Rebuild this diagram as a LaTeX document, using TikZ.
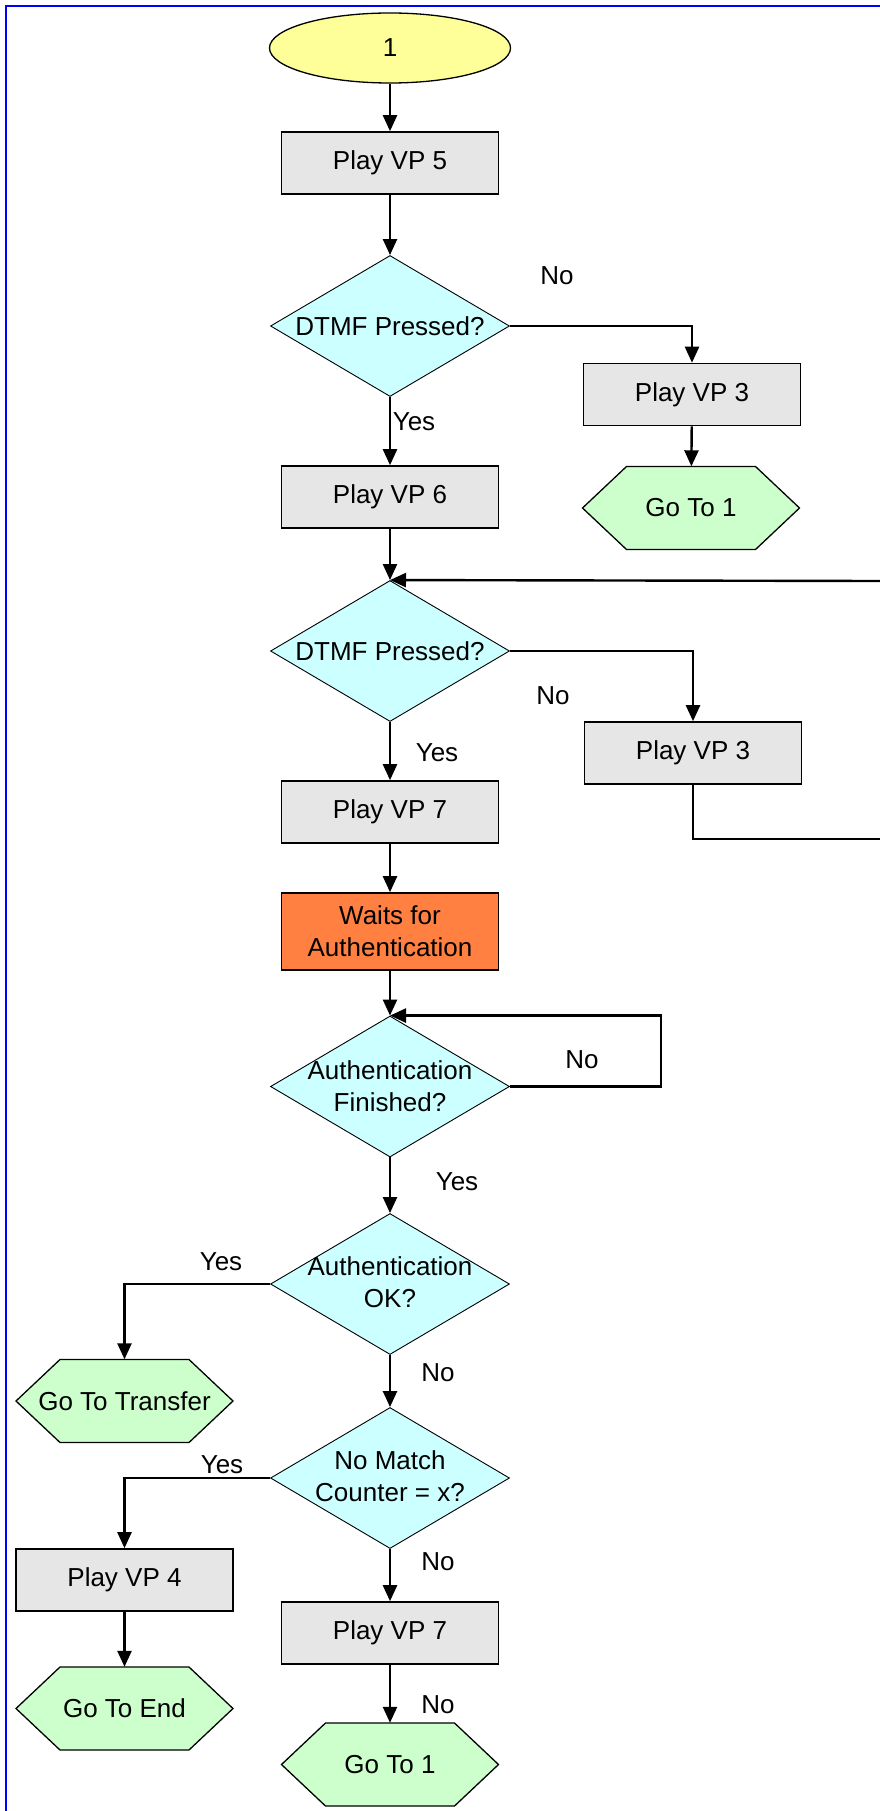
\documentclass[tikz,border=0pt]{standalone}
\usepackage{fontspec}
\setmainfont{Liberation Sans}
\usetikzlibrary{shapes.geometric,arrows.meta}

\definecolor{boxgrey}{HTML}{E6E6E6}
\definecolor{deccyan}{HTML}{CCFFFF}
\definecolor{gogreen}{HTML}{CCFFCC}
\definecolor{startyellow}{HTML}{FFFF99}
\definecolor{waitorange}{HTML}{FF8040}
\definecolor{frameblue}{HTML}{0000FF}

% goto connector: hexagon drawn as a path, label node on top
\newcommand\hexnode[4]{%
  \filldraw[hexline] (#2-108.5,#3) -- (#2-64.5,#3-41.5) -- (#2+64.5,#3-41.5)
    -- (#2+108.5,#3) -- (#2+64.5,#3+41.5) -- (#2-64.5,#3+41.5) -- cycle;
  \node[hexlabel] (#1) at (#2,#3) {#4};}

\begin{document}
\begin{tikzpicture}[x=1pt,y=-1pt,
  txt/.style={font=\fontsize{26}{32}\selectfont, align=center},
  stepbox/.style={txt, draw=black, line width=1.6pt, fill=boxgrey,
    minimum width=217pt, minimum height=62pt, inner sep=0pt},
  waitbox/.style={stepbox, fill=waitorange, minimum height=77pt},
  startnode/.style={txt, ellipse, draw=black, line width=1.3pt, fill=startyellow,
    minimum width=241pt, minimum height=70pt, inner sep=0pt},
  decision/.style={diamond, draw=black, line width=0.9pt, fill=deccyan,
    minimum width=239pt, minimum height=141pt, inner sep=0pt},
  dectext/.style={txt, inner sep=0pt},
  hexline/.style={draw=black, line width=1.3pt, fill=gogreen},
  hexlabel/.style={txt, minimum width=217pt, minimum height=83pt, inner sep=0pt},
  lbl/.style={txt, inner sep=0pt},
  flow/.style={line width=2.4pt, -{Triangle[length=16pt,width=14pt]}},
  plain/.style={line width=1.8pt},
]
\useasboundingbox (0,0) rectangle (880,1811);

% page frame (top and left edges)
\draw[frameblue, line width=2.2pt] (880,6) -- (6,6) -- (6,1811);

% main column
\node[startnode] (start) at (390,48) {1};
\node[stepbox] (vp5) at (390,163) {Play VP 5};
\node[decision] (dtmfa) at (390,326) {};
\node[dectext] (dtmfat) at (dtmfa) {DTMF Pressed?};
\node[stepbox] (vp3a) at (692,394.5) {Play VP 3};
\hexnode{gotoa}{691}{508}{Go To 1}
\node[stepbox] (vp6) at (390,497) {Play VP 6};

\node[decision] (dtmfb) at (390,651) {};
\node[dectext] (dtmfbt) at (dtmfb) {DTMF Pressed?};
\node[stepbox] (vp3b) at (693,753) {Play VP 3};
\node[stepbox] (vp7a) at (390,812) {Play VP 7};
\node[waitbox] (wait) at (390,931.5) {Waits for\\Authentication};

\node[decision] (authfin) at (390,1086.5) {};
\node[dectext] (authfint) at (authfin) {Authentication\\Finished?};
\node[decision] (authok) at (390,1284) {};
\node[dectext] (authokt) at (390,1282.5) {Authentication\\OK?};
\hexnode{gotrans}{124.5}{1401}{Go To Transfer}

\node[decision] (nomatch) at (390,1478) {};
\node[dectext] (nomatcht) at (390,1476) {No Match\\Counter = x?};
\node[stepbox] (vp4) at (124.5,1580) {Play VP 4};
\hexnode{goend}{124.5}{1708.5}{Go To End}
\node[stepbox] (vp7b) at (390,1633) {Play VP 7};
\hexnode{gotob}{390}{1764.5}{Go To 1}

% free ends of the retry loop at the right edge
\coordinate (loopbot) at (880,839);
\coordinate (looptop) at (880,581);

% connectors
\draw[flow] (start) -- (vp5);
\draw[flow] (vp5) -- (dtmfa.north);
\draw[flow] (dtmfa.east) -| (vp3a.north);
\draw[flow] (vp3a) -- (gotoa);
\draw[flow] (dtmfa.south) -- (vp6.north);
\draw[flow] (vp6) -- (dtmfb.north);
\draw[flow] (looptop) -- (dtmfb.north);
\draw[flow] (dtmfb.east) -| (vp3b.north);
\draw[plain] (vp3b.south) |- (loopbot);
\draw[flow] (dtmfb.south) -- (vp7a.north);
\draw[flow] (vp7a) -- (wait);
\draw[flow] (wait) -- (authfin.north);
\draw[flow] (authfin.east) -- ++(151,0) |- (authfin.north);
\draw[flow] (authfin.south) -- (authok.north);
\draw[flow] (authok.west) -| (gotrans.north);
\draw[flow] (authok.south) -- (nomatch.north);
\draw[flow] (nomatch.west) -| (vp4.north);
\draw[flow] (vp4) -- (goend);
\draw[flow] (nomatch.south) -- (vp7b.north);
\draw[flow] (vp7b) -- (gotob);

% branch labels
\node[lbl] (l1) at (557,276) {No};
\node[lbl] (l2) at (414,422) {Yes};
\node[lbl] (l3) at (553,696) {No};
\node[lbl] (l4) at (437,753) {Yes};
\node[lbl] (l5) at (582,1060) {No};
\node[lbl] (l6) at (457,1182) {Yes};
\node[lbl] (l7) at (221,1262) {Yes};
\node[lbl] (l8) at (438,1373) {No};
\node[lbl] (l9) at (222,1465) {Yes};
\node[lbl] (l10) at (438,1562) {No};
\node[lbl] (l11) at (438,1705) {No};
\end{tikzpicture}
\end{document}
